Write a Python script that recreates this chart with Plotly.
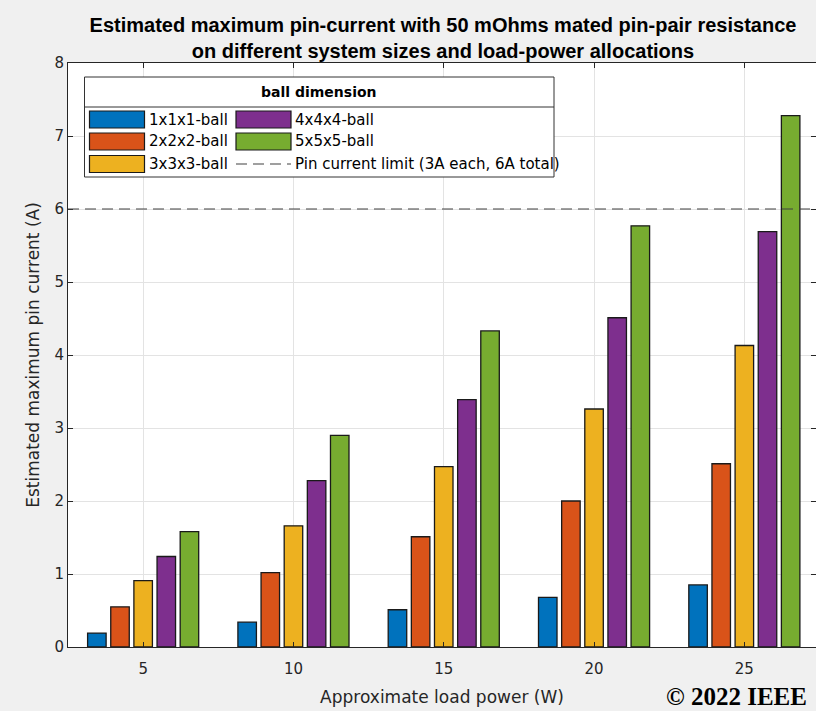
import plotly.graph_objects as go

# Load power categories (W)
load_power = [5, 10, 15, 20, 25]

# Estimated maximum pin current (A) for each system size
series_names = ["1x1x1-ball", "2x2x2-ball", "3x3x3-ball", "4x4x4-ball", "5x5x5-ball"]
current_1 = [0.19, 0.34, 0.51, 0.68, 0.85]
current_2 = [0.55, 1.02, 1.51, 2.00, 2.51]
current_3 = [0.91, 1.66, 2.47, 3.26, 4.13]
current_4 = [1.24, 2.28, 3.39, 4.51, 5.69]
current_5 = [1.58, 2.90, 4.33, 5.77, 7.28]
series_values = [current_1, current_2, current_3, current_4, current_5]
series_colors = ["#0072BD", "#D95319", "#EDB120", "#7E2F8E", "#77AC30"]

pin_limit = 6
pin_limit_label = "Pin current limit (3A each, 6A total)"
legend_title = "ball dimension"

y_ticks = [0, 1, 2, 3, 4, 5, 6, 7, 8]

W, H = 816, 711
ML, MR, MT, MB = 68, 0, 63, 64
PW, PH = W - ML - MR, H - MT - MB

FONT = "DejaVu Sans, sans-serif"
TITLE_FONT = "Liberation Sans, Arial, sans-serif"
AXIS_COLOR = "#262626"


def px(xp):
    return (xp - ML) / PW


def py(yp):
    return (H - MB - yp) / PH


fig = go.Figure()

for name, vals, col in zip(series_names, series_values, series_colors):
    fig.add_trace(go.Bar(
        x=load_power, y=vals, name=name,
        marker=dict(color=col, line=dict(color="#1a1a1a", width=1.3)),
        showlegend=False,
    ))

shapes = [
    # pin current limit
    dict(type="line", xref="paper", yref="y", x0=0, x1=1, y0=pin_limit, y1=pin_limit,
         line=dict(color="#404040", width=1.2, dash="11px,6px"), layer="above"),
    # legend box
    dict(type="rect", xref="paper", yref="paper",
         x0=px(84.5), x1=px(554), y0=py(77), y1=py(177),
         fillcolor="white", line=dict(color="#333333", width=1), layer="above"),
    dict(type="line", xref="paper", yref="paper",
         x0=px(84.5), x1=px(554), y0=py(107), y1=py(107),
         line=dict(color="#333333", width=1), layer="above"),
]

annotations = [
    dict(text="<b>" + legend_title + "</b>", xref="paper", yref="paper",
         x=px(319), y=py(92), showarrow=False, xanchor="center", yanchor="middle",
         font=dict(family=FONT, size=14, color="#000000")),
]

# legend entries, two columns
col_x = [89.5, 236]
row_y = [119.5, 141.5, 164]
entries = list(zip(series_names, series_colors)) + [(pin_limit_label, None)]
order = [(0, 0), (0, 1), (0, 2), (1, 0), (1, 1), (1, 2)]
for (name, col), (c, r) in zip(entries, order):
    x0 = col_x[c]
    yc = row_y[r]
    if col is not None:
        shapes.append(dict(type="rect", xref="paper", yref="paper",
                           x0=px(x0), x1=px(x0 + 55), y0=py(yc - 8.5), y1=py(yc + 8.5),
                           fillcolor=col, line=dict(color="#1a1a1a", width=1.2),
                           layer="above"))
    else:
        shapes.append(dict(type="line", xref="paper", yref="paper",
                           x0=px(x0), x1=px(x0 + 55), y0=py(yc), y1=py(yc),
                           line=dict(color="#404040", width=1.2, dash="11px,6px"),
                           layer="above"))
    annotations.append(dict(text=name, xref="paper", yref="paper",
                            x=px(x0 + 57), y=py(yc), showarrow=False,
                            xanchor="left", yanchor="middle",
                            font=dict(family=FONT, size=15, color="#000000")))

annotations.append(dict(text="<b>© 2022 IEEE</b>", xref="paper", yref="paper",
                        x=px(809), y=py(696), showarrow=False,
                        xanchor="right", yanchor="middle",
                        font=dict(family="Liberation Serif, Times New Roman, serif",
                                  size=25, color="#000000")))

fig.update_layout(
    width=W, height=H,
    margin=dict(l=ML, r=MR, t=MT, b=MB, pad=0),
    paper_bgcolor="#f0f0f0", plot_bgcolor="white",
    barmode="group", bargap=0.23, bargroupgap=0.2,
    title=dict(
        text="<b>Estimated maximum pin-current with 50 mOhms mated pin-pair resistance"
             "<br>on different system sizes and load-power allocations</b>",
        xref="paper", x=px(443), xanchor="center", y=1 - 32 / H, yanchor="middle",
        font=dict(family=TITLE_FONT, size=20, color="#000000"),
    ),
    xaxis=dict(
        range=[2.5, 2.5 + PW / 30.06], tickvals=load_power, ticktext=[str(v) for v in load_power],
        ticks="inside", ticklen=5, tickcolor=AXIS_COLOR, showline=True, linecolor=AXIS_COLOR,
        linewidth=1, mirror="ticks", showgrid=True, gridcolor="#e3e3e3", zeroline=False,
        tickfont=dict(family=FONT, size=15, color=AXIS_COLOR), ticklabelstandoff=8,
        title=dict(text="Approximate load power (W)", standoff=14,
                   font=dict(family=FONT, size=17, color=AXIS_COLOR)),
    ),
    yaxis=dict(
        range=[0, 8], tickvals=y_ticks,
        ticks="inside", ticklen=5, tickcolor=AXIS_COLOR, showline=True, linecolor=AXIS_COLOR,
        linewidth=1, mirror="ticks", showgrid=True, gridcolor="#e3e3e3", zeroline=False,
        tickfont=dict(family=FONT, size=15, color=AXIS_COLOR),
        title=dict(text="Estimated maximum pin current (A)", standoff=10,
                   font=dict(family=FONT, size=17, color=AXIS_COLOR)),
    ),
    shapes=shapes,
    annotations=annotations,
)

fig.write_html("out.html")
